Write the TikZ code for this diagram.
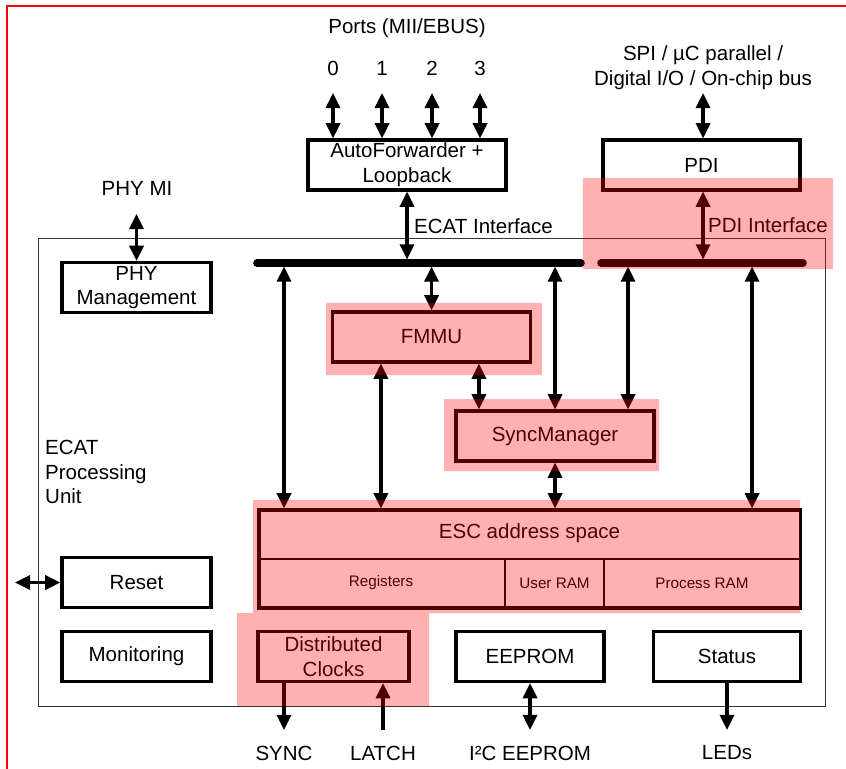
\documentclass[tikz,border=0pt]{standalone}
\usepackage{fontspec}
\setmainfont{Liberation Sans}
\usepackage{tikz}
\usetikzlibrary{arrows.meta, positioning}

\begin{document}
\begin{tikzpicture}[x=0.03cm, y=-0.03cm,
  txt/.style = {font=\fontsize{17.5}{21}\selectfont, align=center, inner sep=0pt},
  blk/.style = {txt, draw, line width=2.6pt, minimum height=1.5cm},
  small/.style = {font=\fontsize{13}{15}\selectfont, inner sep=0pt},
  dbl/.style = {{Triangle[length=13pt,width=12pt]}-{Triangle[length=13pt,width=12pt]}, line width=2.7pt},
  one/.style = {-{Triangle[length=13pt,width=12pt]}, line width=2.7pt},
  bus/.style = {line width=6.5pt, line cap=round},
  hl/.style = {fill=red, opacity=0.31}]
\useasboundingbox (0,0) rectangle (846,769);

% ports and autoforwarder
\node[txt] (ports) at (407,28) {Ports (MII/EBUS)};
\foreach \i/\x in {0/333,1/382,2/432,3/480}{
  \node[txt] (n\i) at (\x,68) {\i};
  \coordinate (p\i) at (\x,93);
}
\node[blk, minimum width=5.94cm] (af) at (407,165) {AutoForwarder +\\Loopback};
\foreach \i in {0,...,3} \draw[dbl] (p\i) -- (p\i |- af.north);

% pdi
\node[txt] (spi) at (703,68) {SPI / µC parallel /\\Digital I/O / On-chip bus};
\coordinate (pt) at (703,93);
\node[blk, minimum width=5.91cm] (pdi) at (701.5,165) {PDI};
\draw[dbl] (pt) -- (pt |- pdi.north);

% processing unit frame
\draw[line width=0.8pt, black!80] (38,238) rectangle (825,706);
\node[txt, anchor=west, align=left] (epu) at (45,472) {ECAT\\Processing\\Unit};

% buses
\coordinate (b1) at (257,263);
\coordinate (b2) at (581,263);
\coordinate (b3) at (601,263);
\coordinate (b4) at (803,263);
\draw[dbl, shorten >=3pt] (af.south) -- (af.south |- b1);
\node[txt, anchor=west] (ecif) at (414,226) {ECAT Interface};
\draw[dbl, shorten >=3pt] (pt |- pdi.south) -- (pt |- b3);
\node[txt, anchor=west] (pdiif) at (708,225) {PDI Interface};

% phy
\node[txt] (phymi) at (137,188) {PHY MI};
\coordinate (pm) at (136.5,214);
\node[blk, minimum width=4.47cm] (phy) at (136.5,287.5) {PHY\\Management};
\draw[dbl] (pm) -- (phy.north);

% fmmu, syncmanager, address space
\node[blk, minimum width=5.94cm] (fmmu) at (431.5,337) {FMMU};
\node[blk, minimum width=5.94cm] (sm) at (555,436) {SyncManager};
\node[blk, minimum width=16.23cm, minimum height=2.94cm] (esc) at (529.5,559) {};
\node[txt] (esct) at (529.5,533) {ESC address space};
\draw[line width=0.9pt] (esc.west) -- (esc.east);
\coordinate (d1) at (505,559);
\coordinate (d2) at (604,559);
\draw[line width=0.9pt] (d1) -- (d1 |- esc.south);
\draw[line width=0.9pt] (d2) -- (d2 |- esc.south);
\node[small] (reg) at (381,583) {Registers};
\node[small] (uram) at (554.5,583) {User RAM};
\node[small] (pram) at (702,583) {Process RAM};

\coordinate (t1) at (284,263);
\coordinate (t2) at (628,263);
\coordinate (t3) at (752,263);
\path (fmmu.south west) ++(50,0) coordinate (f1);
\path (fmmu.south west) ++(148,0) coordinate (f2);
\draw[dbl, shorten <=3pt] (t1) -- (t1 |- esc.north);
\draw[dbl, shorten <=3pt] (fmmu.north |- b1) -- (fmmu.north);
\draw[dbl, shorten <=3pt] (sm.north |- b1) -- (sm.north);
\draw[dbl, shorten <=3pt] (t2) -- (t2 |- sm.north);
\draw[dbl, shorten <=3pt] (t3) -- (t3 |- esc.north);
\draw[dbl] (f1) -- (f1 |- esc.north);
\draw[dbl] (f2) -- (f2 |- sm.north);
\draw[dbl] (sm.south) -- (sm.south |- esc.north);
\draw[bus] (b1) -- (b2);
\draw[bus] (b3) -- (b4);

% left column
\node[blk, minimum width=4.47cm] (reset) at (136.5,582.5) {Reset};
\coordinate (rs) at (15,582.5);
\draw[dbl] (rs) -- (reset.west);
\node[blk, minimum width=4.47cm] (mon) at (136.5,656.5) {Monitoring};

% bottom row
\node[blk, minimum width=4.53cm] (dc) at (333.5,656.5) {Distributed\\Clocks};
\node[blk, minimum width=4.44cm] (eep) at (530,656.5) {EEPROM};
\node[blk, minimum width=4.41cm] (stat) at (727,656.5) {Status};
\node[txt] (sync) at (284,753) {SYNC};
\node[txt] (latch) at (383,753) {LATCH};
\node[txt] (i2c) at (530,753) {I²C EEPROM};
\node[txt] (leds) at (727,753) {LEDs};
\coordinate (se) at (284,730);
\coordinate (le) at (383,730);
\coordinate (ee) at (530,730);
\coordinate (ld) at (727,730);
\draw[one] (se |- dc.south) -- (se);
\draw[one] (le) -- (le |- dc.south);
\draw[dbl] (eep.south) -- (ee);
\draw[one] (stat.south) -- (ld);

% outer red frame
\draw[red, line width=1.6pt] (846,6) -- (7,6) -- (7,769);

% highlighted parts
\fill[hl] (583,178) rectangle (833,269)
  (326,303) rectangle (542,375)
  (444,399) rectangle (659,471)
  (253,500) rectangle (800,613)
  (237,613) rectangle (429,706);
\end{tikzpicture}
\end{document}
